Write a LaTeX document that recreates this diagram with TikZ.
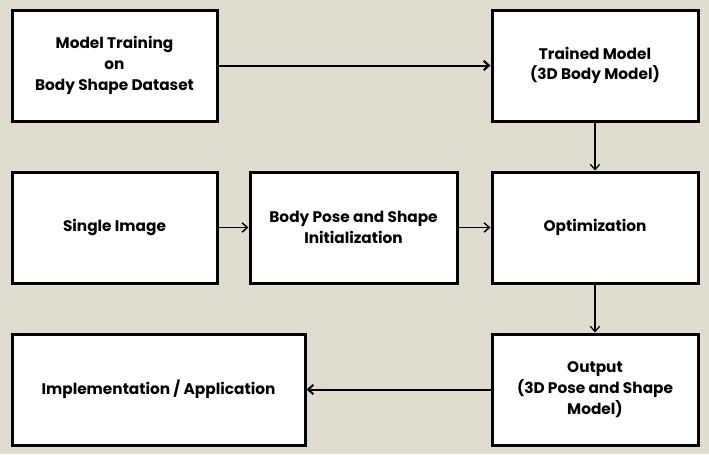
\documentclass[tikz,border=0pt]{standalone}
\usepackage{fontspec}
\setmainfont{Poppins}[BoldFont={Poppins Bold}]
\usetikzlibrary{arrows.meta}
\definecolor{bgbeige}{RGB}{224,221,208}
\tikzset{every picture/.style={line width=0.75pt}}
\tikzset{
  blockbox/.style={draw, fill=white, line width=2.25pt, align=center, font=\bfseries\fontsize{11.5}{15.5}\selectfont, inner sep=2pt, minimum height=83.25pt},
  flowarrow/.style={-{Straight Barb[length=4pt,width=7pt]}, line width=1.5pt},
}

\begin{document}
\begin{tikzpicture}[x=0.75pt,y=0.75pt,yscale=-1,xscale=1]
%background
\fill [bgbeige] (0,0) rectangle (709,454);
\useasboundingbox (0,0) rectangle (709,454);

% Boxes
\node [blockbox, minimum width=153.75pt] (training) at (114.5,65.5) {Model Training\\on\\Body Shape Dataset};
\node [blockbox, minimum width=154.5pt] (trained) at (595,65.5) {Trained Model\\(3D Body Model)};
\node [blockbox, minimum width=153.75pt] (single) at (114.5,227.5) {Single Image};
\node [blockbox, minimum width=155.25pt] (init) at (353.5,227.5) {Body Pose and Shape\\Initialization};
\node [blockbox, minimum width=154.5pt] (optim) at (595,227.5) {Optimization};
\node [blockbox, minimum width=219.75pt] (impl) at (158.5,389.5) {Implementation / Application};
\node [blockbox, minimum width=154.5pt] (output) at (595,389.5) {Output\\(3D Pose and Shape\\Model)};

% Arrows
\draw [flowarrow] (training) -- (trained);
\draw [flowarrow, line width=0.9pt] (trained) -- (optim);
\draw [flowarrow, line width=1.1pt] (single) -- (init);
\draw [flowarrow, line width=1.1pt] (init) -- (optim);
\draw [flowarrow, line width=0.9pt] (optim) -- (output);
\draw [flowarrow] (output) -- (impl);
\end{tikzpicture}
\end{document}
